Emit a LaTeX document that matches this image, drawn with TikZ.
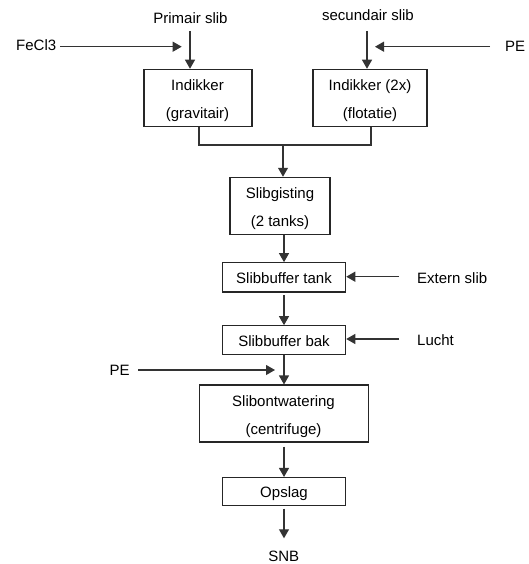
\documentclass[tikz,border=0pt]{standalone}
\usepackage{fontspec}
\setmainfont{Liberation Sans}
\usetikzlibrary{arrows.meta}
\begin{document}
\begin{tikzpicture}[x=1pt,y=-1pt,
  every node/.style={font=\fontsize{15}{18}\selectfont},
  proc/.style={draw=black!85,line width=1.1pt,inner sep=0pt,text height=12pt,text depth=0pt},
  lbl/.style={inner sep=0pt,anchor=base},
  lblw/.style={inner sep=0pt,anchor=base west},
  flow/.style={draw=black!80,line width=1.1pt,-{Triangle[length=9pt,width=10pt]}},
  pipe/.style={draw=black!80,line width=1.1pt}]
\useasboundingbox (0,0) rectangle (528,564);

% process boxes
\node[proc,minimum width=108pt,minimum height=57.4pt] (g1) at (198,98) {};
\node[lbl] (g1a) at (197.5,91) {Indikker};
\node[lbl] (g1b) at (197.5,119) {(gravitair)};
\node[proc,minimum width=114pt,minimum height=57.4pt] (g2) at (370,98) {};
\node[lbl] (g2a) at (370,91) {Indikker (2x)};
\node[lbl] (g2b) at (370,119) {(flotatie)};
\node[proc,minimum width=100pt,minimum height=57pt] (gist) at (280,205.8) {};
\node[lbl] (gista) at (280,198.5) {Slibgisting};
\node[lbl] (gistb) at (280,226.5) {(2 tanks)};
\node[proc,minimum width=123.4pt,minimum height=29.3pt] (tank) at (284,277.35) {Slibbuffer tank};
\node[proc,minimum width=123.4pt,minimum height=28.6pt] (bak) at (284,340) {Slibbuffer bak};
\node[proc,minimum width=169.4pt,minimum height=57pt] (ontw) at (284,413.5) {};
\node[lbl] (ontwa) at (283.5,406) {Slibontwatering};
\node[lbl] (ontwb) at (283.5,434) {(centrifuge)};
\node[proc,minimum width=123.4pt,minimum height=28pt] (opslag) at (284,491.5) {Opslag};

% external streams
\node[lbl] (prim) at (190.5,24) {Primair slib};
\node[lbl] (sec) at (368,21) {secundair slib};
\node[lblw] (fecl) at (16,51) {FeCl3};
\node[lblw] (pe1) at (505,51.5) {PE};
\node[lblw] (ext) at (417,283) {Extern slib};
\node[lblw] (lucht) at (417,345) {Lucht};
\node[lblw] (pe2) at (109.3,375) {PE};
\node[lbl] (snb) at (283.7,561.7) {SNB};

% inflow to the thickeners
\coordinate (p1) at (190,31);
\coordinate (p2) at (367,31);
\draw[flow] (p1) -- (p1 |- g1.north);
\draw[flow] (p2) -- (p2 |- g2.north);
\coordinate (f0) at (60,46.7);
\coordinate (f1) at (181.7,46.7);
\draw[flow] (f0) -- (f1);
\coordinate (e0) at (490,46.7);
\coordinate (e1) at (375,46.7);
\draw[flow] (e0) -- (e1);

% merge of both thickeners
\coordinate (m1) at (199,145);
\coordinate (m2) at (371,145);
\coordinate (mc) at (283,145);
\draw[pipe] (m1 |- g1.south) -- (m1) -- (m2) -- (m2 |- g2.south);
\draw[flow] (mc) -- (mc |- gist.north);

% main line
\coordinate (a1) at (284,234);
\draw[flow] (a1 |- gist.south) -- (a1 |- tank.north);
\coordinate (a2) at (284,295);
\draw[flow] (a2) -- (a2 |- bak.north);
\draw[flow] (bak.south) -- (ontw.north);
\coordinate (a3) at (284,446.7);
\draw[flow] (a3) -- (opslag.north);
\coordinate (a4) at (284,508.7);
\coordinate (a5) at (284,538.3);
\draw[flow] (a4) -- (a5);

% side streams
\coordinate (x0) at (399,276.7);
\draw[flow] (x0) -- (x0 -| tank.east);
\coordinate (l0) at (399,339);
\draw[flow] (l0) -- (l0 -| bak.east);
\coordinate (q0) at (138,370);
\coordinate (q1) at (275,370);
\draw[flow] (q0) -- (q1);
\end{tikzpicture}
\end{document}
